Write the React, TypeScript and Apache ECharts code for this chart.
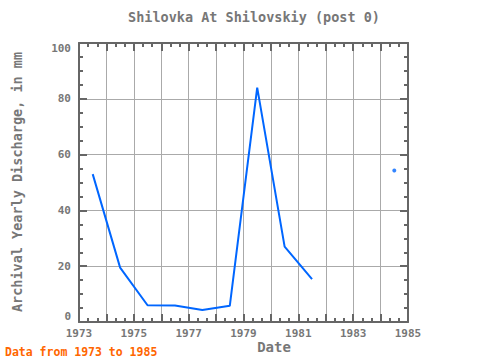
import React, { useEffect, useRef } from "react";
import * as echarts from "echarts";

const years = [1973.5, 1974.5, 1975.5, 1976.5, 1977.5, 1978.5, 1979.5, 1980.5, 1981.5, 1982.5, 1983.5, 1984.5];
const discharge: (number | null)[] = [53, 19.5, 6, 5.9, 4.3, 5.8, 84, 27, 15.4, null, null, 54.3];
const titleText = "Shilovka At Shilovskiy (post 0)";
const yName = "Archival Yearly Discharge, in mm";
const xName = "Date";
const footer = "Data from 1973 to 1985";

const FONT = "'DejaVu Sans Mono', 'Liberation Mono', monospace";
const AX = "#666666";
const TXT = "#777777";

export default function App() {
  const ref = useRef<HTMLDivElement>(null);
  useEffect(() => {
    if (!ref.current) return;
    const chart = echarts.init(ref.current, undefined, { renderer: "svg" });
    const lineData = years.map((x, i) => [x, discharge[i]]);
    const isolated = years
      .map((x, i) => [x, discharge[i]] as [number, number | null])
      .filter((p, i) => p[1] != null && (i === 0 || discharge[i - 1] == null) && (i === years.length - 1 || discharge[i + 1] == null));
    const xCommon = {
      type: "value" as const,
      min: 1973,
      max: 1985,
      interval: 1,
    };
    const yCommon = {
      type: "value" as const,
      min: 0,
      max: 100,
      interval: 20,
    };
    chart.setOption({
      animation: false,
      grid: { left: 79, right: 72, top: 43, bottom: 38 },
      xAxis: [
        {
          ...xCommon,
          position: "bottom",
          axisLine: { show: true, onZero: false, lineStyle: { color: AX, width: 2 } },
          axisTick: { show: true, inside: true, length: 8, lineStyle: { color: AX, width: 2 } },
          minorTick: { show: true, splitNumber: 3, length: 4, lineStyle: { color: AX, width: 2 } },
          splitLine: { show: true, lineStyle: { color: "#aaaaaa", width: 1 } },
          axisLabel: {
            color: TXT,
            fontFamily: FONT,
            fontSize: 11,
            fontWeight: "bold",
            margin: 6,
            formatter: (v: number) => (Math.round(v) % 2 === 1 ? String(Math.round(v)) : ""),
          },
        },
        {
          ...xCommon,
          position: "top",
          axisLine: { show: true, onZero: false, lineStyle: { color: AX, width: 2 } },
          axisTick: { show: true, inside: true, length: 8, lineStyle: { color: AX, width: 2 } },
          minorTick: { show: true, splitNumber: 3, length: 4, lineStyle: { color: AX, width: 2 } },
          splitLine: { show: false },
          axisLabel: { show: false },
        },
      ],
      yAxis: [
        {
          ...yCommon,
          position: "left",
          axisLine: { show: true, onZero: false, lineStyle: { color: AX, width: 2 } },
          axisTick: { show: true, inside: true, length: 8, lineStyle: { color: AX, width: 2 } },
          minorTick: { show: true, splitNumber: 4, length: 4, lineStyle: { color: AX, width: 2 } },
          splitLine: { show: true, lineStyle: { color: "#aaaaaa", width: 1 } },
          axisLabel: {
            color: TXT,
            fontFamily: FONT,
            fontSize: 11,
            fontWeight: "bold",
            margin: 8,
            verticalAlignMinLabel: "bottom",
            verticalAlignMaxLabel: "top",
          },
        },
        {
          ...yCommon,
          position: "right",
          axisLine: { show: true, onZero: false, lineStyle: { color: AX, width: 2 } },
          axisTick: { show: true, inside: true, length: 8, lineStyle: { color: AX, width: 2 } },
          minorTick: { show: true, splitNumber: 4, length: 4, lineStyle: { color: AX, width: 2 } },
          splitLine: { show: false },
          axisLabel: { show: false },
        },
      ],
      series: [
        {
          type: "line",
          data: lineData,
          showSymbol: false,
          connectNulls: false,
          lineStyle: { color: "#0066ff", width: 2 },
          itemStyle: { color: "#0066ff" },
        },
        {
          type: "scatter",
          data: isolated,
          symbolSize: 4,
          itemStyle: { color: "#0066ff" },
        },
      ],
      graphic: [
        {
          type: "text",
          x: 254,
          y: 17,
          style: { text: titleText, fontFamily: FONT, fontSize: 13.5, fontWeight: "bold", fill: TXT, align: "center", verticalAlign: "middle" },
        },
        {
          type: "text",
          x: 17,
          y: 182,
          rotation: Math.PI / 2,
          style: { text: yName, fontFamily: FONT, fontSize: 13.5, fontWeight: "bold", fill: TXT, align: "center", verticalAlign: "middle" },
        },
        {
          type: "text",
          x: 274,
          y: 347,
          style: { text: xName, fontFamily: FONT, fontSize: 14, fontWeight: "bold", fill: TXT, align: "center", verticalAlign: "middle" },
        },
        {
          type: "text",
          x: 5,
          y: 352,
          style: { text: footer, fontFamily: FONT, fontSize: 11.5, fontWeight: "bold", fill: "#ff6600", align: "left", verticalAlign: "middle" },
        },
      ],
    });
    return () => chart.dispose();
  }, []);
  return <div ref={ref} style={{ width: 480, height: 360, position: "absolute", left: 0, top: 0 }} />;
}
